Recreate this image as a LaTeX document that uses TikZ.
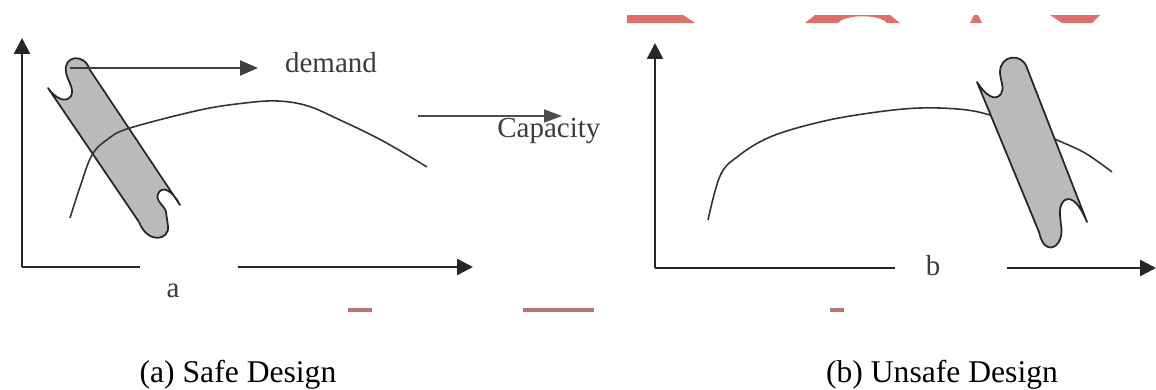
\documentclass[tikz,border=0pt]{standalone}
\usepackage{fontspec}
\setmainfont{Liberation Serif}
\usetikzlibrary{arrows.meta,positioning}
\definecolor{bandgray}{RGB}{186,186,186}
\definecolor{lblgray}{RGB}{60,60,60}
\definecolor{wmred}{RGB}{222,112,108}
\tikzset{
  axis/.style={line width=1.4pt, black!85, -{Triangle[length=0.32cm,width=0.32cm]}},
  axisline/.style={line width=1.4pt, black!85},
  curve/.style={line width=0.9pt, black!80},
  band/.style={draw=black!85, line width=1pt, fill=bandgray, line join=round},
  ptr/.style={line width=1.3pt, black!75, -{Triangle[length=0.36cm,width=0.3cm]}},
  smallptr/.style={line width=1pt, black!70, -{Triangle[length=0.36cm,width=0.26cm]}},
  lbl/.style={font=\fontsize{16.5}{18}\selectfont, text=lblgray, inner sep=0pt},
  caption/.style={font=\fontsize{18}{21}\selectfont, inner sep=0pt},
  wm/.style={fill=wmred},
  wmlow/.style={fill=wmred!60!gray}
}

\begin{document}
\begin{tikzpicture}[x=0.02cm, y=-0.02cm]
\useasboundingbox (0,0) rectangle (1156,389);
% watermark leftovers
\fill[wm] (627,15) -- (683,15) -- (695,23) -- (627,23) -- cycle;
\fill[wm] (805,23) -- (815,15) -- (890,15) -- (900,23) -- (887,23) .. controls (880,14) and (845,14) .. (838,23) -- cycle;
\fill[wm] (970,23) -- (974,15) -- (978,15) -- (982,23) -- cycle;
\fill[wm] (1050,15) -- (1100,15) -- (1092,23) -- (1062,23) -- cycle;
\fill[wmlow] (348,308) rectangle (372,312);
\fill[wmlow] (523,308) rectangle (594,312);
\fill[wmlow] (830,308) rectangle (844,312);

% (a) safe design
\coordinate (oA) at (22,267);
\coordinate (yA) at (22,38);
\coordinate (gapAl) at (140,267);
\coordinate (gapAr) at (238,267);
\coordinate (xA) at (473,267);
\node[lbl] (a) at (173,291) {a};
\draw[axis] (oA) -- (yA);
\draw[axisline] (oA) -- (gapAl);
\draw[axis] (gapAr) -- (xA);
\draw[band] (90,70) -- (180,205) .. controls (172,190) and (162,185) .. (158,194)
  .. controls (155,201) and (165,206) .. (166,212) -- (168,226)
  .. controls (170,240) and (148,245) .. (139,222) -- (48,88)
  .. controls (55,98) and (66,104) .. (71,96) .. controls (75,89) and (67,80) .. (66,72)
  .. controls (63,56) and (84,52) .. (90,70) -- cycle;
\draw[curve] plot[smooth, tension=0.6] coordinates {(70,218) (80,187) (92,155) (108,139) (130,128)
  (200,110) (245,103) (278,101) (308,106) (340,120) (383,141) (427,167)};
\coordinate (dmS) at (70,68);
\coordinate (dmE) at (258,68);
\node[lbl] (dem) at (331,63) {demand};
\draw[ptr] (dmS) -- (dmE);
\coordinate (cpS) at (418,116);
\coordinate (cpE) at (562,116);
\node[lbl, anchor=west] (cap) at (497,131) {Capacity};
\draw[smallptr] (cpS) -- (cpE);
\node[caption] (capA) at (238,375) {(a) Safe Design};

% (b) unsafe design
\coordinate (oB) at (655,268);
\coordinate (yB) at (655,43);
\coordinate (gapBl) at (895,268);
\coordinate (gapBr) at (1007,268);
\coordinate (xB) at (1156,268);
\node[lbl] (b) at (933,266) {b};
\draw[axis] (oB) -- (yB);
\draw[axisline] (oB) -- (gapBl);
\draw[axis] (gapBr) -- (xB);
\draw[curve] plot[smooth, tension=0.6] coordinates {(708,220) (720,176) (737,157) (770,137) (820,122)
  (870,113) (920,108) (967,110) (1000,118) (1030,128) (1057,140) (1085,153) (1112,172)};
\draw[band] (1027,68) -- (1087,222) .. controls (1080,205) and (1072,196) .. (1065,200)
  .. controls (1058,205) and (1060,215) .. (1061,225)
  .. controls (1064,240) and (1055,250) .. (1048,247)
  .. controls (1043,245) and (1041,240) .. (1039,232) -- (977,82)
  .. controls (985,95) and (995,102) .. (1001,94) .. controls (1005,88) and (1000,80) .. (1000,72)
  .. controls (1000,55) and (1022,52) .. (1027,68) -- cycle;
\node[caption] (capB) at (942,375) {(b) Unsafe Design};
\end{tikzpicture}
\end{document}
